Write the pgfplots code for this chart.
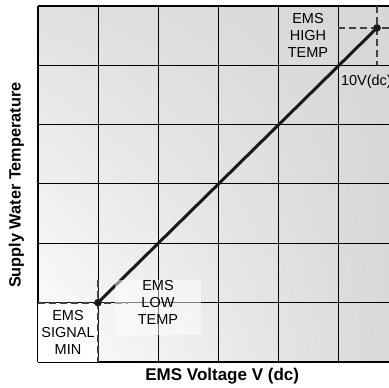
\documentclass[border=0pt]{standalone}
\usepackage{pgfplots}
\pgfplotsset{compat=1.18}
\usetikzlibrary{shadings}
\usepackage{fontspec}
\setmainfont{Liberation Sans}
\begin{document}
\begin{tikzpicture}
\begin{axis}[
  scale only axis,
  width=351pt, height=356pt,
  xmin=0, xmax=5.85, ymin=0, ymax=6,
  xtick={1,2,3,4,5}, ytick={1,2,3,4,5},
  xticklabels={}, yticklabels={},
  major tick length=0pt,
  grid=major,
  grid style={black, line width=0.9pt},
  axis x line*=box, axis y line*=left,
  axis line style={black, line width=2.6pt},
  axis background/.style={shade, lower left=white, upper left=black!12, upper right=black!16, lower right=black!15},
  clip=false,
]
% white box for signal min cell
\fill[white] (axis cs:0,0) rectangle (axis cs:1,1);
% dashed guide lines
\addplot[black!75, line width=1.8pt, dash pattern=on 7pt off 4pt] coordinates {(0,1) (1.5,1)};
\addplot[black!75, line width=1.8pt, dash pattern=on 7pt off 4pt] coordinates {(1,1.38) (1,0)};
\addplot[black!75, line width=1.8pt, dash pattern=on 7pt off 4pt] coordinates {(5,5.63) (5.85,5.63)};
\addplot[black!75, line width=1.8pt, dash pattern=on 7pt off 4pt] coordinates {(5.65,6) (5.65,5)};
% main line
\addplot[black!90, line width=3pt, mark=*, mark size=2.2pt, mark options={solid}] coordinates {(1,1) (5.65,5.63)};
% text boxes
\node[fill=white, fill opacity=0.5, text opacity=1, minimum width=86pt, minimum height=55pt, inner sep=0pt] at (axis cs:2.0,0.92) {};
\node[align=center, font=\fontsize{14.5}{17}\selectfont] at (axis cs:2.0,1.0) {EMS\\LOW\\TEMP};
\node[align=center, font=\fontsize{14.5}{17}\selectfont] at (axis cs:0.5,0.49) {EMS\\SIGNAL\\MIN};
\node[align=center, font=\fontsize{14.5}{17}\selectfont] at (axis cs:4.5,5.51) {EMS\\HIGH\\TEMP};
\node[anchor=west, inner sep=1pt, font=\fontsize{14.5}{16}\selectfont] at (axis cs:5.03,4.72) {10V(dc)};
% labels
\node[font=\bfseries\fontsize{17}{19}\selectfont] at (axis cs:3.07,-0.236) {EMS Voltage V (dc)};
\node[rotate=90, font=\bfseries\fontsize{16.3}{18}\selectfont] at (axis cs:-0.36,2.98) {Supply Water Temperature};
\coordinate (bl) at (axis cs:-0.633,-0.438);
\coordinate (tr) at (axis cs:5.85,6.10);
\end{axis}
\pgfresetboundingbox
\useasboundingbox (bl) rectangle (tr);
\end{tikzpicture}
\end{document}
